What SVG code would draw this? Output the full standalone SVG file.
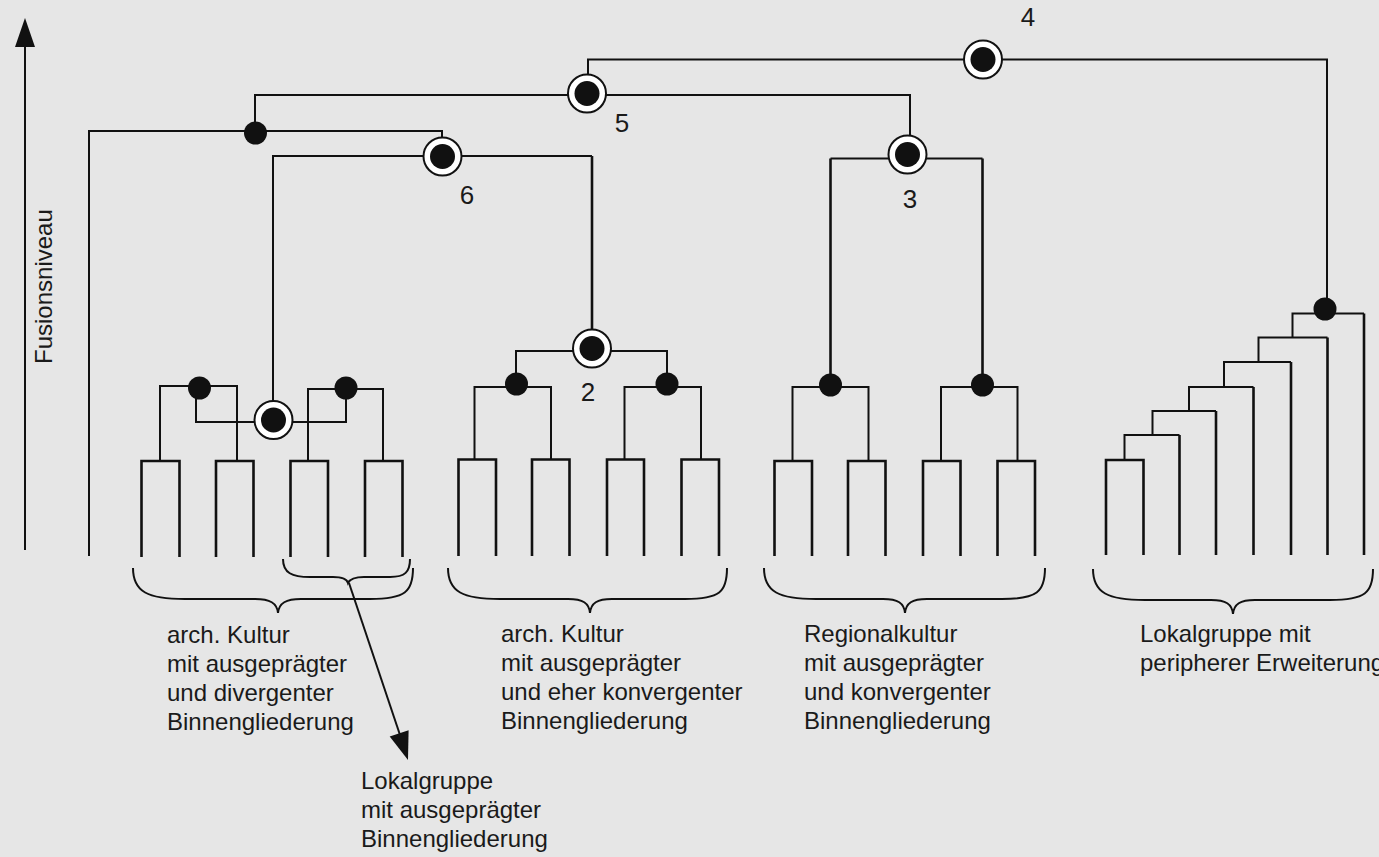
<svg xmlns="http://www.w3.org/2000/svg" width="1379" height="857" viewBox="0 0 1379 857">
  <style>
    .ln { fill: none; stroke: #111; stroke-width: 2; stroke-linejoin: miter; stroke-linecap: butt; }
    .bold { stroke-width: 2.6; }
    .brace { fill: none; stroke: #111; stroke-width: 2; }
    .dot { fill: #111; }
    .ring { fill: #fff; stroke: #111; stroke-width: 2; }
    .lbl { font-family: "Liberation Sans", Arial, sans-serif; font-size: 20px; fill: #1a1a1a; }
    .num { font-family: "Liberation Sans", Arial, sans-serif; font-size: 26px; fill: #1a1a1a; text-anchor: middle; }
  </style>
  <defs>
    <g id="ringNode">
      <circle class="ring" r="19"/>
      <circle class="dot" r="12.5"/>
    </g>
  </defs>

  <rect width="1379" height="857" fill="#e6e6e6"/>

  <!-- vertical axis -->
  <g id="axis">
    <line class="ln" x1="25" y1="550" x2="25" y2="44"/>
    <polygon points="25,18 15,47 35,47" fill="#111"/>
    <text class="lbl" font-size="24" transform="translate(52,364) rotate(-90)" style="font-size:24px">Fusionsniveau</text>
  </g>

  <!-- connectors -->
  <g id="connectors">
    <!-- upper fusion levels -->
    <path class="ln" d="M89,556 V131 H442 V138"/>
    <path class="ln" d="M255,133 V95 H910 V136"/>
    <path class="ln" d="M588,93 V59.5 H1327 V309"/>
    <path class="ln" d="M273,420 V156 H592"/>
    <path class="ln bold" d="M592,156 V349"/>

    <!-- left cluster -->
    <path class="ln" d="M196,388 V422 H346 V388"/>
    <path class="ln" d="M160,461 V386 H237 V461"/>
    <path class="ln" d="M308,461 V389 H383 V461"/>
    <path class="ln bold" d="M141.5,557 V461 H179.5 V557"/>
    <path class="ln bold" d="M216,557 V461 H253.5 V557"/>
    <path class="ln bold" d="M290.5,557 V461 H328 V557"/>
    <path class="ln bold" d="M365,557 V461 H402.5 V557"/>

    <!-- middle cluster -->
    <path class="ln" d="M516,384 V351 H667 V384"/>
    <path class="ln" d="M474.5,460 V387 H551 V460"/>
    <path class="ln" d="M624.5,460 V387 H701 V460"/>
    <path class="ln bold" d="M458.5,556 V459.5 H496 V556"/>
    <path class="ln bold" d="M532,556 V459.5 H569.5 V556"/>
    <path class="ln bold" d="M607,556 V459.5 H644 V556"/>
    <path class="ln bold" d="M681.5,556 V459.5 H719 V556"/>

    <!-- regional cluster -->
    <path class="ln" d="M830.5,158.5 H982.5"/>
    <path class="ln bold" d="M830.5,158.5 V385"/>
    <path class="ln bold" d="M982.5,158.5 V385"/>
    <path class="ln" d="M792.5,461 V387 H868.5 V461"/>
    <path class="ln" d="M941,461 V387 H1017.5 V461"/>
    <path class="ln bold" d="M774.5,556 V461 H812 V556"/>
    <path class="ln bold" d="M848,556 V461 H885.5 V556"/>
    <path class="ln bold" d="M923,556 V461 H960.5 V556"/>
    <path class="ln bold" d="M997.5,556 V461 H1035 V556"/>

    <!-- local group staircase -->
    <path class="ln" d="M1292.5,337.5 V313.5 H1364"/>
    <path class="ln bold" d="M1364,313.5 V555"/>
    <path class="ln" d="M1258.5,362 V337.5 H1327.5"/>
    <path class="ln bold" d="M1327.5,337.5 V555"/>
    <path class="ln" d="M1224,387 V362 H1291"/>
    <path class="ln bold" d="M1291,362 V555"/>
    <path class="ln" d="M1189,411 V387 H1253.5"/>
    <path class="ln bold" d="M1253.5,387 V555"/>
    <path class="ln" d="M1152.5,435 V411 H1216"/>
    <path class="ln bold" d="M1216,411 V555"/>
    <path class="ln" d="M1124.5,460 V435 H1179.5"/>
    <path class="ln bold" d="M1179.5,435 V555"/>
    <path class="ln bold" d="M1106,555 V460 H1143.5 V555"/>

    <!-- braces -->
    <path class="brace" d="M133,568 C133,592 148,599 185,599 L255,599 C270,599 277,603 278,613 C279,603 286,599 301,599 L370,599 C405,599 413,592 413,568"/>
    <path class="brace" d="M283,559 C283,573 292,577 310,577 L333,577 C343,577 347,579 348,583 C350,579 354,577 364,577 L390,577 C405,577 410,572 410,559"/>
    <path class="brace" d="M448,568 C448,592 463,599 500,599 L568,599 C583,599 589,603 590,613 C591,603 597,599 612,599 L685,599 C720,599 727,592 727,568"/>
    <path class="brace" d="M764,568 C764,592 779,599 816,599 L883,599 C898,599 904,603 905,613 C906,603 912,599 927,599 L1002,599 C1037,599 1045,592 1045,568"/>
    <path class="brace" d="M1093,569 C1093,593 1108,600 1145,600 L1211,600 C1226,600 1232,604 1233,614 C1234,604 1240,600 1255,600 L1330,600 C1365,600 1373,593 1373,569"/>

    <!-- pointer to the local group -->
    <line class="ln" x1="349" y1="583" x2="400" y2="735"/>
    <polygon points="408,760 389.7,736.6 408.6,730.2" fill="#111"/>
  </g>

  <!-- fusion nodes -->
  <g id="node-a"><circle class="dot" cx="255.5" cy="133" r="11.5"/></g>
  <g id="node-left-1"><circle class="dot" cx="199.5" cy="388" r="11.5"/></g>
  <g id="node-left-2"><circle class="dot" cx="346" cy="388" r="11.5"/></g>
  <g id="node-mid-1"><circle class="dot" cx="516.5" cy="384" r="11.5"/></g>
  <g id="node-mid-2"><circle class="dot" cx="667" cy="384" r="11.5"/></g>
  <g id="node-reg-1"><circle class="dot" cx="830.5" cy="385" r="11.5"/></g>
  <g id="node-reg-2"><circle class="dot" cx="982.5" cy="385" r="11.5"/></g>
  <g id="node-local"><circle class="dot" cx="1325" cy="309" r="11.5"/></g>

  <g id="ring-left"><use href="#ringNode" x="273.5" y="420"/></g>
  <g id="ring-2"><use href="#ringNode" x="592" y="348.5"/><text class="num" x="588" y="401">2</text></g>
  <g id="ring-3"><use href="#ringNode" x="907.5" y="154.5"/><text class="num" x="910" y="208">3</text></g>
  <g id="ring-4"><use href="#ringNode" x="983" y="59.5"/><text class="num" x="1028" y="26">4</text></g>
  <g id="ring-5"><use href="#ringNode" x="587" y="93.5"/><text class="num" x="622" y="132">5</text></g>
  <g id="ring-6"><use href="#ringNode" x="442.5" y="156.5"/><text class="num" x="467" y="204">6</text></g>

  <!-- group descriptions -->
  <g id="label-arch-divergent" class="lbl" style="font-size:24px">
    <text x="167" y="643">arch. Kultur</text>
    <text x="167" y="672">mit ausgeprägter</text>
    <text x="167" y="701">und divergenter</text>
    <text x="167" y="730">Binnengliederung</text>
  </g>
  <g id="label-arch-convergent" class="lbl" style="font-size:24px">
    <text x="501" y="642">arch. Kultur</text>
    <text x="501" y="671">mit ausgeprägter</text>
    <text x="501" y="700">und eher konvergenter</text>
    <text x="501" y="729">Binnengliederung</text>
  </g>
  <g id="label-regional" class="lbl" style="font-size:24px">
    <text x="804" y="642">Regionalkultur</text>
    <text x="804" y="671">mit ausgeprägter</text>
    <text x="804" y="700">und konvergenter</text>
    <text x="804" y="729">Binnengliederung</text>
  </g>
  <g id="label-local-peripheral" class="lbl" style="font-size:24px">
    <text x="1140" y="642">Lokalgruppe mit</text>
    <text x="1140" y="671">peripherer Erweiterung</text>
  </g>
  <g id="label-local" class="lbl" style="font-size:24px">
    <text x="361" y="789">Lokalgruppe</text>
    <text x="361" y="818">mit ausgeprägter</text>
    <text x="361" y="847">Binnengliederung</text>
  </g>
</svg>
